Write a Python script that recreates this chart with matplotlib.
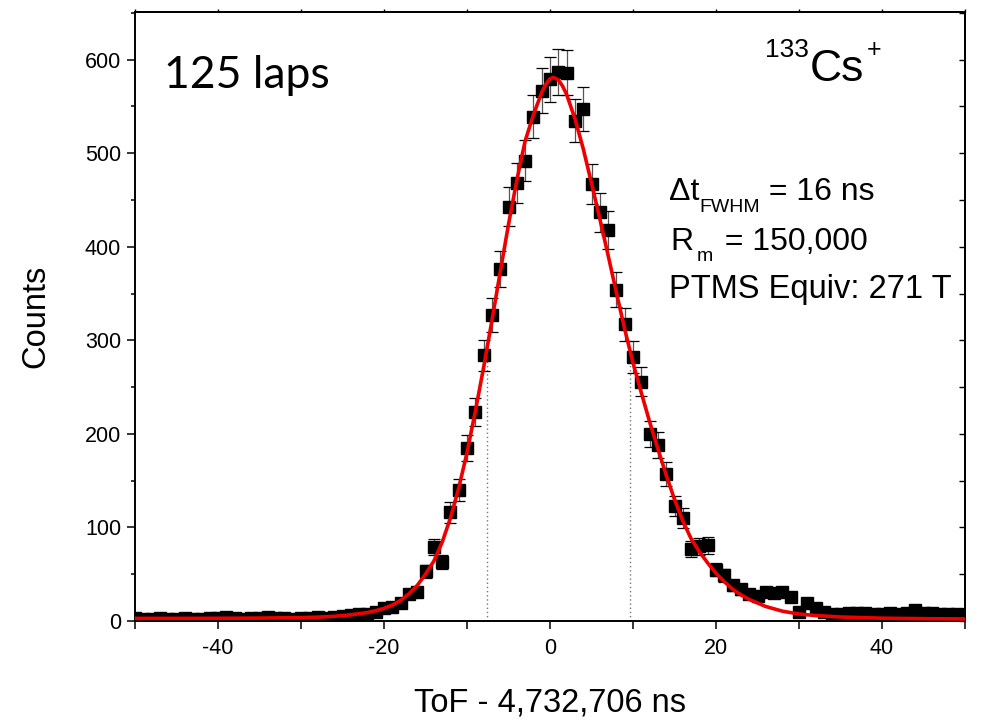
import numpy as np
import matplotlib
matplotlib.use("Agg")
import matplotlib.pyplot as plt
from matplotlib.ticker import MultipleLocator

plt.rcParams['font.family'] = ['Liberation Sans', 'DejaVu Sans']
plt.rcParams['axes.unicode_minus'] = False

# ---- data (ToF offset in ns, counts per 1 ns bin) ----
tof_ns = list(range(-50, 51))
counts = [
    # -50 .. -23
    3, 2, 2, 3, 2, 2, 3, 2, 2, 3, 3, 4, 3, 2, 3, 3, 4, 3, 3, 2, 3, 3, 4, 3, 4, 5, 6, 7,
    # -22 .. -1
    8, 10, 14, 15, 19, 29, 31, 53, 79, 63, 116, 140, 185, 223, 284, 327, 376, 443, 468, 492, 539, 567,
    # 0 .. 33
    579, 587, 586, 535, 547, 467, 437, 418, 354, 317, 282, 256, 200, 188, 157, 123, 110, 77, 80, 81,
    55, 49, 38, 34, 29, 27, 31, 30, 31, 26, 10, 19, 14, 10,
    # 34 .. 50
    8, 8, 9, 9, 9, 8, 8, 9, 8, 9, 12, 9, 9, 8, 8, 7, 5,
]

# fitted peak shape
fit_x = [-50, -45, -40, -35, -30, -28, -26, -24, -22, -21, -20, -19, -18, -17, -16, -15, -14, -13,
         -12, -11, -10, -9, -8, -7, -6, -5, -4, -3, -2, -1.5, -1, -0.5, 0, 0.4, 1, 1.5, 2, 2.5, 3,
         4, 5, 6, 7, 8, 9, 10, 11, 12, 13, 14, 15, 16, 17, 18, 19, 20, 21, 22, 23, 24, 26, 28, 30,
         32, 35, 40, 45, 50]
fit_y = [2.8, 2.8, 2.9, 3.1, 3.6, 4.1, 5.0, 6.6, 9.0, 11, 13.5, 17, 22, 29, 38, 50, 64, 84,
         110, 142, 180, 224, 271, 321, 373, 424, 471, 513, 541, 553, 565, 574, 579.5, 581, 578.5,
         572, 563, 550, 537,
         505, 468, 430, 391, 351, 312, 276, 244, 213, 184, 156, 130, 107, 88, 74, 62, 51, 42, 34,
         28, 23, 15.5, 10.5, 7.5, 5.8, 4.3, 3.0, 2.5, 2.2]

fwhm_edges = [-7.55, 9.6]
half_max = 290

# ---- figure ----
W, H = 981, 719
fig = plt.figure(figsize=(W / 100, H / 100), dpi=100)
ax = fig.add_axes([135 / W, 1 - 621 / H, (965 - 135) / W, (621 - 12) / H])

x = np.array(tof_ns, dtype=float)
y = np.array(counts, dtype=float)
err = np.sqrt(y)

eb = ax.errorbar(x, y, yerr=err, fmt='none', ecolor='black', elinewidth=0.9,
                 capsize=4.3, capthick=0.9, zorder=2)
for lc in eb[2]:
    lc.set_color('#555555')
ax.plot(x, y, linestyle='none', marker='s', markersize=9.2, color='black', zorder=3)

for xe in fwhm_edges:
    ax.plot([xe, xe], [0, half_max], color='#777777', linestyle=(0, (1, 2)), linewidth=1.0, zorder=1)

ax.plot(fit_x, fit_y, color='#ee0000', linewidth=2.6, zorder=4, solid_capstyle='butt')

ax.set_xlim(-50, 50)
ax.set_ylim(0, 651)

ax.xaxis.set_major_locator(MultipleLocator(20))
ax.xaxis.set_minor_locator(MultipleLocator(10))
ax.yaxis.set_major_locator(MultipleLocator(100))
ax.yaxis.set_minor_locator(MultipleLocator(50))

ax.tick_params(axis='x', which='both', direction='out', length=6, width=1.1,
               labelsize=15.5, pad=6, top=False)
ax.tick_params(axis='y', which='major', direction='out', length=6, width=1.1, labelsize=15.5, pad=4)
ax.tick_params(axis='y', which='minor', direction='out', length=3, width=1.1)

# top ticks: short outward; right ticks inward
axt = ax.secondary_xaxis('top')
axt.xaxis.set_major_locator(MultipleLocator(10))
axt.tick_params(direction='out', length=2, width=1.0, labeltop=False)
axr = ax.secondary_yaxis('right')
axr.yaxis.set_major_locator(MultipleLocator(50))
axr.tick_params(direction='in', length=4, width=1.0, labelright=False)

for sp in ax.spines.values():
    sp.set_linewidth(1.4)
axt.spines['top'].set_linewidth(1.4)
axr.spines['right'].set_linewidth(1.4)

ax.set_xlabel('ToF - 4,732,706 ns', fontsize=23.5, labelpad=21)
ax.set_ylabel('Counts', fontsize=23.5, labelpad=24)

renderer = fig.canvas.get_renderer()


def chain(px, py, pieces):
    """Place text pieces one after another; each piece = (text, size, drop_px, gap_px)."""
    cur = px
    for s, size, drop, gap in pieces:
        cur += gap
        t = fig.text(cur / W, 1 - (py + drop) / H, s, va='baseline', ha='left', fontsize=size)
        bb = t.get_window_extent(renderer)
        cur = bb.x1


fig.text(164 / W, 1 - 88 / H, '125 laps', va='baseline', ha='left', fontsize=32,
         family=['Lato', 'DejaVu Sans'])

chain(765, 57, [('133', 19, 0, 0), ('Cs', 32, 24, 1), ('+', 18, 0, 2)])

chain(669, 200, [('Δt', 23, 0, 0), ('FWHM', 14, 12, 0), (' = 16 ns', 23, 0, 0)])
chain(670, 250, [('R', 23, 0, 0), ('m', 14, 11, 4), (' = 150,000', 23, 0, 3)])
chain(669, 298, [('PTMS Equiv: 271 T', 23.5, 0, 0)])

fig.savefig('out.png', dpi=100)
